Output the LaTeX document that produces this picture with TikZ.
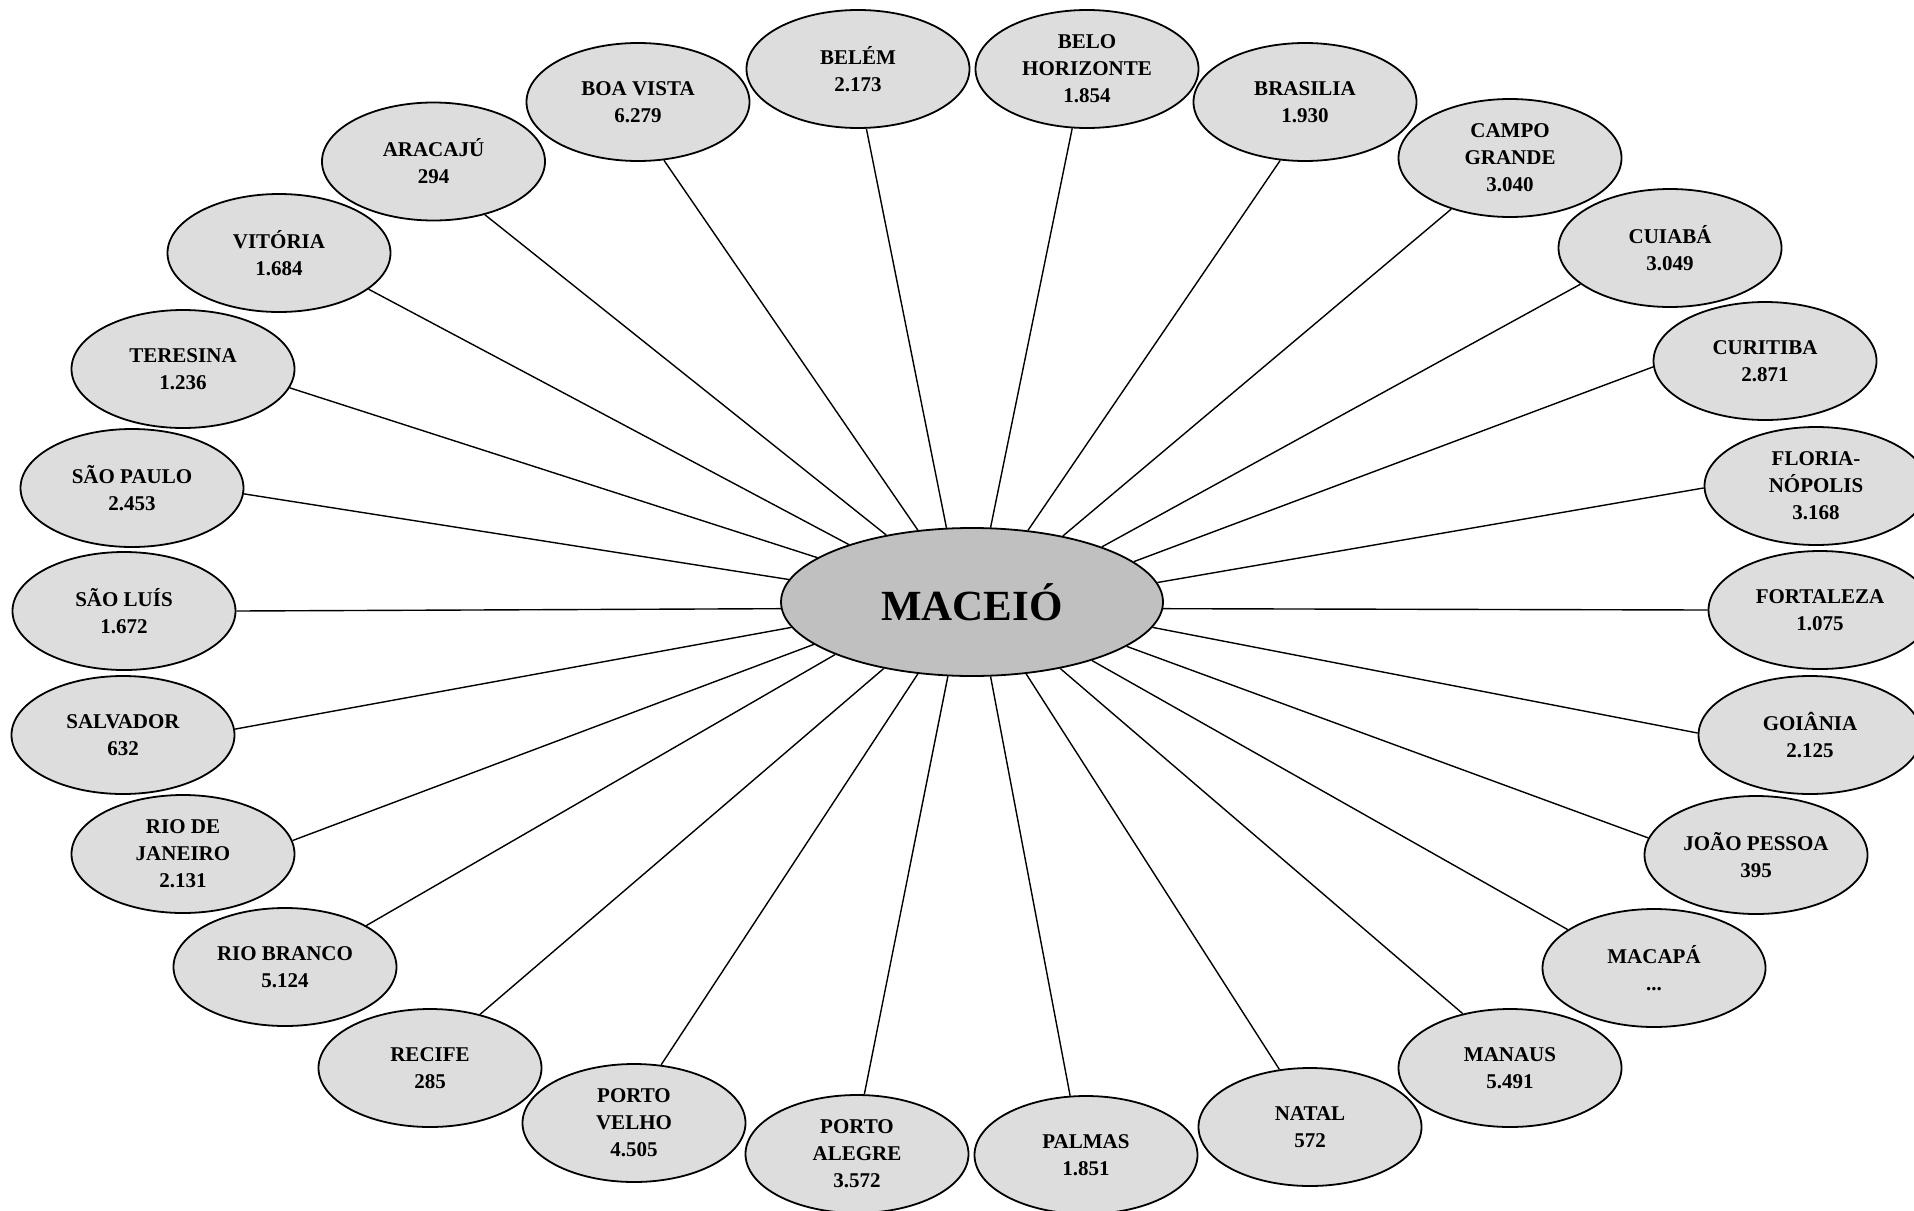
\documentclass[tikz,border=0pt]{standalone}
\usepackage{fontspec}
\setmainfont{Liberation Serif}
\usetikzlibrary{shapes.geometric}
\definecolor{satgray}{HTML}{DDDDDD}
\definecolor{hubgray}{HTML}{C0C0C0}
\begin{document}
\begin{tikzpicture}[x=1pt,y=-1pt,
  city/.style={ellipse,draw=black,line width=1.8pt,fill=satgray,minimum width=223pt,minimum height=118pt,inner sep=0pt,align=center,font=\fontsize{21}{27}\selectfont\bfseries},
  hub/.style={ellipse,draw=black,line width=1.8pt,fill=hubgray,minimum width=382pt,minimum height=148pt,inner sep=0pt,font=\fontsize{43}{50}\selectfont\bfseries},
  link/.style={line width=1.4pt}]
\fill[white] (0,0) rectangle (1914,1210);
\useasboundingbox (0,0) rectangle (1914,1210);

\node[hub] (maceio) at (972,602) {MACEIÓ};

\node[city] (belem) at (858,69) {BELÉM\\2.173};
\node[city] (boavista) at (638,102) {BOA VISTA\\6.279};
\node[city] (aracaju) at (433.5,161.5) {ARACAJÚ\\294};
\node[city] (vitoria) at (279,253) {VITÓRIA\\1.684};
\node[city] (teresina) at (183,369) {TERESINA\\1.236};
\node[city] (saopaulo) at (132,488) {SÃO PAULO\\2.453};
\node[city] (saoluis) at (124,611) {SÃO LUÍS\\1.672};
\node[city] (salvador) at (123,735) {SALVADOR\\632};
\node[city] (rio) at (183,854) {RIO DE\\JANEIRO\\2.131};
\node[city] (riobranco) at (285,967) {RIO BRANCO\\5.124};
\node[city] (recife) at (430,1068) {RECIFE\\285};
\node[city] (portovelho) at (634,1123) {PORTO\\VELHO\\4.505};
\node[city] (portoalegre) at (857,1154) {PORTO\\ALEGRE\\3.572};
\node[city] (palmas) at (1086,1155) {PALMAS\\1.851};
\node[city] (natal) at (1310,1127) {NATAL\\572};
\node[city] (manaus) at (1510,1068) {MANAUS\\5.491};
\node[city] (macapa) at (1654,968) {MACAPÁ\\...};
\node[city] (joaopessoa) at (1756,855) {JOÃO PESSOA\\395};
\node[city] (goiania) at (1810,735) {GOIÂNIA\\2.125};
\node[city] (fortaleza) at (1820,610) {FORTALEZA\\1.075};
\node[city] (floripa) at (1816,486) {FLORIA-\\NÓPOLIS\\3.168};
\node[city] (curitiba) at (1765,361) {CURITIBA\\2.871};
\node[city] (cuiaba) at (1670,248) {CUIABÁ\\3.049};
\node[city] (campogrande) at (1510,158) {CAMPO\\GRANDE\\3.040};
\node[city] (brasilia) at (1305,102) {BRASILIA\\1.930};
\node[city] (belohorizonte) at (1087,69) {BELO\\HORIZONTE\\1.854};

\draw[link] (belem.-82.6) -- (maceio.109.8);
\draw[link] (boavista.-66.2) -- (maceio.127.2);
\draw[link] (aracaju.-46.5) -- (maceio.142.9);
\draw[link] (vitoria.-22.2) -- (maceio.155.3);
\draw[link] (teresina.-10.1) -- (maceio.164.8);
\draw[link] (saopaulo.-3.4) -- (maceio.173.75);
\draw[link] (saoluis.0.75) -- (maceio.182.3);
\draw[link] (salvador.3.8) -- (maceio.188.6);
\draw[link] (rio.7.5) -- (maceio.195.9);
\draw[link] (riobranco.27.3) -- (maceio.201.4);
\draw[link] (recife.47.1) -- (maceio.217.6);
\draw[link] (portovelho.65.3) -- (maceio.233);
\draw[link] (portoalegre.83.1) -- (maceio.252.1);
\draw[link] (palmas.105.2) -- (maceio.284);
\draw[link] (natal.118.3) -- (maceio.-53.6);
\draw[link] (manaus.131.3) -- (maceio.-37.3);
\draw[link] (macapa.156.6) -- (maceio.-26.1);
\draw[link] (joaopessoa.171.7) -- (maceio.-16.7);
\draw[link] (goiania.179.8) -- (maceio.-8.2);
\draw[link] (fortaleza.180) -- (maceio.-2.3);
\draw[link] (floripa.181) -- (maceio.6.4);
\draw[link] (curitiba.183.9) -- (maceio.14.5);
\draw[link] (cuiaba.202.6) -- (maceio.23.7);
\draw[link] (campogrande.221.8) -- (maceio.36.5);
\draw[link] (brasilia.247.9) -- (maceio.52.2);
\draw[link] (belohorizonte.256.5) -- (maceio.76.1);
\end{tikzpicture}
\end{document}
